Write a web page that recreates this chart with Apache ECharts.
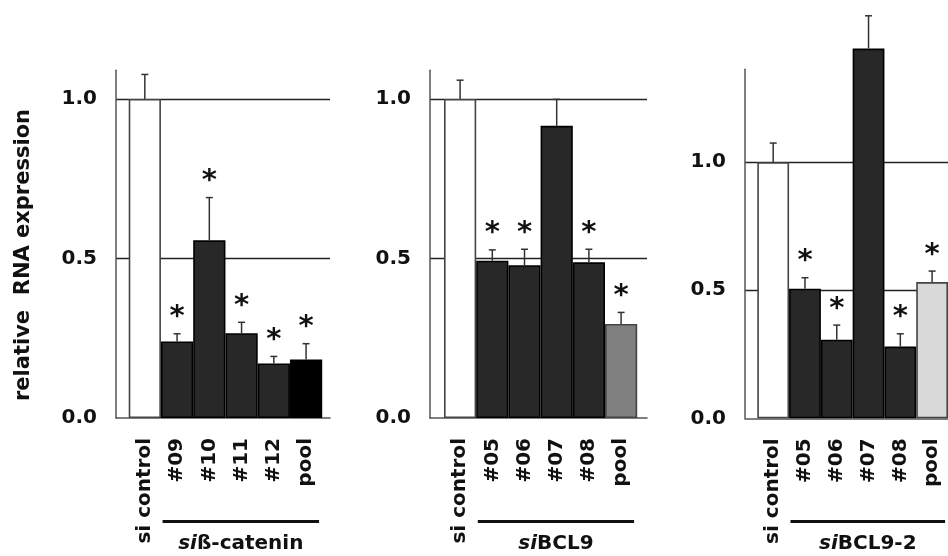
<!DOCTYPE html>
<html><head><meta charset="utf-8">
<script src="https://cdn.jsdelivr.net/npm/echarts@6/dist/echarts.min.js"></script>
<style>html,body{margin:0;padding:0;background:#fff}#c{width:948px;height:556px}</style>
</head><body><div id="c"></div><script>
// ---------- data ----------
const catsBetaCatenin = ['si control', '#09', '#10', '#11', '#12', 'pool'];
const valsBetaCatenin = [1.00, 0.240, 0.557, 0.266, 0.171, 0.183];
const errsBetaCatenin = [0.077, 0.024, 0.134, 0.034, 0.022, 0.050];
const sigBetaCatenin  = [0, 1, 1, 1, 1, 1];

const catsBCL9 = ['si control', '#05', '#06', '#07', '#08', 'pool'];
const valsBCL9 = [1.00, 0.493, 0.479, 0.916, 0.488, 0.295];
const errsBCL9 = [0.059, 0.034, 0.050, 0.083, 0.041, 0.036];
const sigBCL9  = [0, 1, 1, 0, 1, 1];

const catsBCL92 = ['si control', '#05', '#06', '#07', '#08', 'pool'];
const valsBCL92 = [1.00, 0.506, 0.307, 1.444, 0.280, 0.532];
const errsBCL92 = [0.075, 0.043, 0.057, 0.128, 0.050, 0.043];
const sigBCL92  = [0, 1, 1, 0, 1, 1];

const groupNames = ['ß-catenin', 'BCL9', 'BCL9-2'];
const axisMax = [1.09, 1.09, 1.363];
const yTickStep = 0.5;
const yTitle = 'relative  RNA expression';

// ---------- styles / layout ----------
const FONT = '"DejaVu Sans", sans-serif';
const DARK = '#282828';
const poolColors = ['#000000', '#808080', '#d9d9d9'];
const layouts = [
  { frameLeft: 116, frameWidth: 214, barLeft: 128.7, barWidth: 193.5, top: 70.3, height: 347.7 },
  { frameLeft: 430, frameWidth: 217, barLeft: 444,   barWidth: 193.2, top: 70.3, height: 347.7 },
  { frameLeft: 745, frameWidth: 260, barLeft: 757.3, barWidth: 194,   top: 69.3, height: 349 }
];
const panelData = [
  [catsBetaCatenin, valsBetaCatenin, errsBetaCatenin, sigBetaCatenin],
  [catsBCL9, valsBCL9, errsBCL9, sigBCL9],
  [catsBCL92, valsBCL92, errsBCL92, sigBCL92]
];

const grid = [], xAxis = [], yAxis = [], series = [];
panelData.forEach(function (pd, p) {
  const L = layouts[p];
  const cats = pd[0], vals = pd[1], errs = pd[2], sig = pd[3];
  grid.push({ left: L.frameLeft, top: L.top, width: L.frameWidth, height: L.height, containLabel: false });
  grid.push({ left: L.barLeft, top: L.top, width: L.barWidth, height: L.height, containLabel: false });
  const fg = p * 2, bg = p * 2 + 1;
  xAxis.push({
    gridIndex: fg, type: 'value', min: 0, max: 1,
    axisLine: { show: true, lineStyle: { color: '#555', width: 1.5 } },
    axisTick: { show: false }, axisLabel: { show: false }, splitLine: { show: false }
  });
  xAxis.push({
    gridIndex: bg, type: 'category', data: cats,
    axisLine: { show: false }, axisTick: { show: false },
    axisLabel: { interval: 0, rotate: 90, margin: 20, fontFamily: FONT, fontWeight: 'bold', fontSize: 20, color: '#111' }
  });
  yAxis.push({
    gridIndex: fg, type: 'value', min: 0, max: axisMax[p], interval: yTickStep,
    axisLine: { show: true, lineStyle: { color: '#555', width: 1.5 } },
    axisTick: { show: false },
    axisLabel: {
      margin: 19, fontFamily: FONT, fontWeight: 'bold', fontSize: 20, color: '#111',
      formatter: function (v) { return Math.abs(v / yTickStep - Math.round(v / yTickStep)) < 1e-6 ? v.toFixed(1) : ''; }
    },
    splitLine: { show: true, showMinLine: false, showMaxLine: false, lineStyle: { color: '#222', width: 1.4 } }
  });
  yAxis.push({ gridIndex: bg, type: 'value', min: 0, max: axisMax[p], show: false });

  series.push({
    type: 'bar', xAxisIndex: bg, yAxisIndex: bg, barCategoryGap: '0%', clip: false, z: 2,
    data: vals.map(function (v, i) {
      const isCtl = i === 0, isPool = i === vals.length - 1;
      return {
        value: v,
        itemStyle: {
          color: isCtl ? '#ffffff' : (isPool ? poolColors[p] : DARK),
          borderColor: isCtl || (isPool && p > 0) ? '#444' : '#000',
          borderWidth: 1.6
        }
      };
    })
  });
  series.push({
    type: 'custom', xAxisIndex: bg, yAxisIndex: bg, clip: false, z: 3,
    data: vals.map(function (v, i) { return [i, v, errs[i], sig[i]]; }),
    renderItem: function (params, api) {
      const i = api.value(0), v = api.value(1), e = api.value(2), s = api.value(3);
      const p0 = api.coord([i, v]), p1 = api.coord([i, v + e]);
      const st = { stroke: '#333', lineWidth: 1.5 };
      const children = [
        { type: 'line', shape: { x1: p0[0], y1: p0[1], x2: p1[0], y2: p1[1] }, style: st },
        { type: 'line', shape: { x1: p0[0] - 3.5, y1: p1[1], x2: p0[0] + 3.5, y2: p1[1] }, style: st }
      ];
      if (s) {
        children.push({ type: 'text', x: p0[0], y: p1[1] - 16,
          style: { text: '*', font: 'bold 29px ' + FONT, fill: '#111', textAlign: 'center', textVerticalAlign: 'middle' } });
      }
      return { type: 'group', children: children };
    }
  });
});

const chart = echarts.init(document.getElementById('c'), null, { renderer: 'canvas' });
chart.setOption({
  animation: false,
  backgroundColor: '#ffffff',
  grid: grid, xAxis: xAxis, yAxis: yAxis, series: series
});

const graphics = [{
  type: 'text', x: 24, y: 255, rotation: Math.PI / 2,
  style: { text: yTitle, font: 'bold 21px ' + FONT, fill: '#111', textAlign: 'center', textVerticalAlign: 'middle' }
}];
panelData.forEach(function (pd, p) {
  const cats = pd[0];
  const bg = p * 2 + 1;
  const first = chart.convertToPixel({ xAxisIndex: bg }, cats[1]);
  const last = chart.convertToPixel({ xAxisIndex: bg }, cats[cats.length - 1]);
  const x1 = first - 14.5, x2 = last + 13;
  graphics.push({ type: 'line', shape: { x1: x1, y1: 521.5, x2: x2, y2: 521.5 }, style: { stroke: '#111', lineWidth: 3 } });
  graphics.push({
    type: 'text', x: (x1 + x2) / 2, y: 544,
    style: {
      text: '{i|si}{n|' + groupNames[p] + '}', textAlign: 'center', textVerticalAlign: 'middle',
      rich: {
        i: { fontFamily: FONT, fontStyle: 'italic', fontWeight: 'bold', fontSize: 20, fill: '#111', color: '#111' },
        n: { fontFamily: FONT, fontWeight: 'bold', fontSize: 20, fill: '#111', color: '#111' }
      }
    }
  });
});
chart.setOption({ graphic: graphics });
</script></body></html>
